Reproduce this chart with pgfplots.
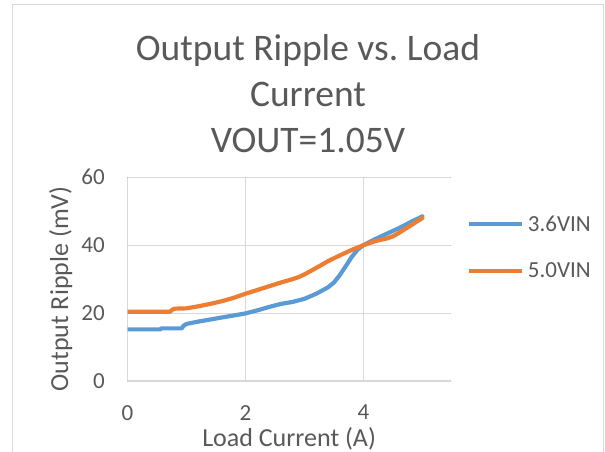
\documentclass[border=0pt]{standalone}
\usepackage{fontspec}
\setmainfont{Carlito}
\usepackage{pgfplots}
\pgfplotsset{compat=1.18}
\definecolor{sblue}{HTML}{5B9BD5}
\definecolor{sorange}{HTML}{ED7D31}
\definecolor{gridgray}{HTML}{D9D9D9}
\definecolor{txtgray}{HTML}{595959}
\frenchspacing
\begin{document}
\begin{tikzpicture}
\useasboundingbox (0pt,0pt) rectangle (605pt,452pt);
\draw[gridgray, line width=1pt] (12.5pt,0pt) -- (12.5pt,447.5pt) -- (603.5pt,447.5pt) -- (603.5pt,0pt);
\node[anchor=base, text=txtgray, font=\fontsize{37.5}{45}\selectfont, inner sep=0pt] at (308pt,391pt) {Output Ripple vs.\ Load};
\node[anchor=base, text=txtgray, font=\fontsize{37.5}{45}\selectfont, inner sep=0pt] at (308pt,345pt) {Current};
\node[anchor=base, text=txtgray, font=\fontsize{37.5}{45}\selectfont, inner sep=0pt] at (308pt,299pt) {VOUT=1.05V};
\begin{axis}[
  at={(127.5pt,71pt)}, anchor=south west,
  width=323.2pt, height=203.7pt, scale only axis,
  xmin=0, xmax=5.48, ymin=0, ymax=60,
  xtick={0,2,4}, ytick={0,20,40,60},
  grid=major, major grid style={draw=gridgray, line width=1.1pt},
  axis line style={draw=none},
  major tick length=0pt,
  /pgf/number format/assume math mode=true,
  tick label style={font=\fontsize{23}{27}\selectfont, text=txtgray},
  xticklabel style={inner sep=0pt, anchor=north, yshift=-24pt},
  yticklabel style={inner sep=0pt, anchor=east, xshift=-22.5pt},
  xlabel={Load Current (A)},
  ylabel={Output Ripple (mV)},
  label style={font=\fontsize{26}{31}\selectfont, text=txtgray, inner sep=0pt},
  xlabel style={at={(axis description cs:0.5,-0.324)}, anchor=base},
  ylabel style={at={(axis description cs:-0.184,0.4517)}, anchor=base},
  legend style={draw=none, fill=none, at={(axis description cs:1.0495,0.812)}, anchor=north west,
    inner sep=0pt, row sep=30pt, font=\fontsize{23}{27}\selectfont, text=txtgray,
    nodes={inner sep=0pt, anchor=west},
    /tikz/every odd column/.append style={column sep=4pt}},
  legend cell align=left,
  legend image code/.code={\draw[#1, line width=4pt] (0pt,0pt) -- (53pt,0pt);},
  line join=round, line cap=round,
]
\addplot[color=sblue, line width=4.2pt, no marks] coordinates {
(0,15.2) (0.2,15.2) (0.4,15.2) (0.55,15.2) (0.58,15.5) (0.92,15.5) (0.95,16.3) (1.0,16.8)
(1.2,17.5) (1.4,18.1) (1.6,18.7) (1.8,19.3) (2.0,19.9) (2.2,20.8) (2.4,21.8) (2.6,22.7)
(2.8,23.3) (3.0,24.2) (3.2,25.7) (3.4,27.6) (3.5,29.0) (3.6,31.2) (3.7,33.8) (3.8,36.5)
(3.9,38.7) (4.0,40.0) (4.2,41.8) (4.4,43.4) (4.6,45.0) (4.8,46.8) (5.0,48.5)};
\addlegendentry{3.6VIN}
\addplot[color=sorange, line width=4.2pt, no marks] coordinates {
(0,20.4) (0.72,20.4) (0.76,21.0) (0.8,21.3) (1.0,21.4) (1.2,22.0) (1.4,22.7) (1.6,23.5)
(1.8,24.5) (2.0,25.7) (2.2,26.8) (2.4,27.9) (2.6,29.0) (2.8,30.0) (2.9,30.6) (3.0,31.4)
(3.2,33.3) (3.4,35.3) (3.6,37.0) (3.8,38.6) (4.0,40.0) (4.2,41.2) (4.4,42.0) (4.5,42.6)
(4.6,43.6) (4.8,45.8) (5.0,48.0)};
\addlegendentry{5.0VIN}
\end{axis}
\end{tikzpicture}
\end{document}
